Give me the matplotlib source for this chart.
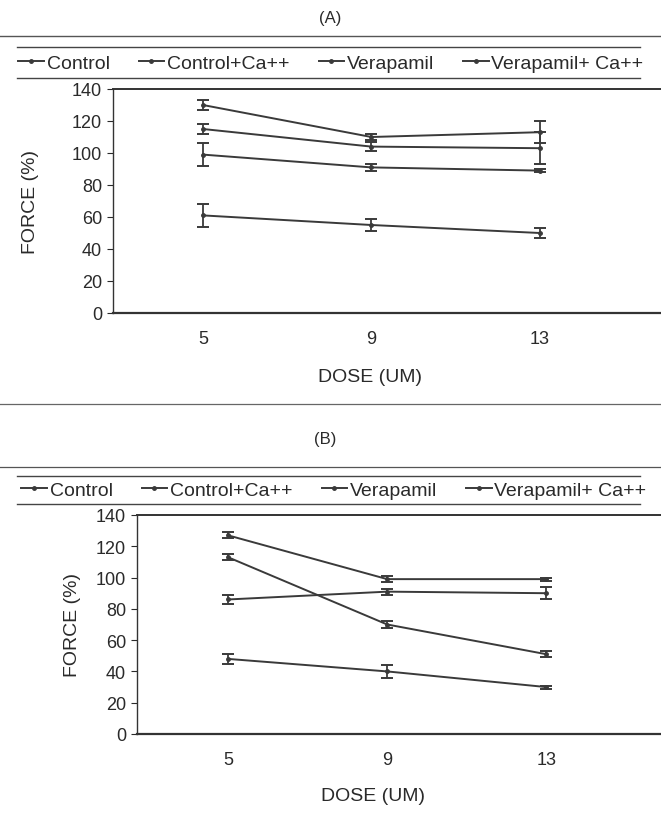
import matplotlib
matplotlib.use("Agg")
import matplotlib.pyplot as plt
from matplotlib.lines import Line2D

doses = ["5", "9", "13"]
series_names = ["Control", "Control+Ca++", "Verapamil", "Verapamil+ Ca++"]

# Panel A
a_control = [99, 91, 89]
a_control_err = [7, 2, 1]
a_control_ca = [115, 104, 103]
a_control_ca_err = [3, 3, 10]
a_verapamil = [61, 55, 50]
a_verapamil_err = [7, 4, 3]
a_verapamil_ca = [130, 110, 113]
a_verapamil_ca_err = [3, 2, 7]

# Panel B
b_control = [86, 91, 90]
b_control_err = [3, 2, 4]
b_control_ca = [113, 70, 51]
b_control_ca_err = [2, 2, 2]
b_verapamil = [48, 40, 30]
b_verapamil_err = [3, 4, 1]
b_verapamil_ca = [127, 99, 99]
b_verapamil_ca_err = [2, 2, 1]

W, H = 661, 828
fig = plt.figure(figsize=(W / 100, H / 100), dpi=100)
fig.patch.set_facecolor("white")
plt.rcParams["font.family"] = ["Liberation Sans", "DejaVu Sans"]

C = "#3a3a3a"
T = "#2a2a2a"


def fx(px):
    return px / W


def fy(py):
    return 1 - py / H


def hline(y, x0, x1, lw=1.0, color="#444444"):
    fig.add_artist(Line2D([fx(x0), fx(x1)], [fy(y), fy(y)], color=color, lw=lw))


def panel(ax, data, errs, xlim):
    x = list(range(len(doses)))
    for vals, err in zip(data, errs):
        ax.errorbar(x, vals, yerr=err, color=C, lw=1.4, marker="o", ms=2.5,
                    capsize=4, capthick=1.4, elinewidth=1.3)
    ax.set_xlim(*xlim)
    ax.set_ylim(0, 140)
    ax.set_yticks(range(0, 141, 20))
    ax.set_xticks(x)
    ax.set_xticklabels(doses)
    ax.tick_params(axis="x", length=0, pad=12, labelsize=13, colors=T)
    ax.tick_params(axis="y", length=4, width=0.8, direction="out", labelsize=13,
                   colors=T, pad=4)
    ax.spines["right"].set_visible(False)
    for s in ["left", "bottom", "top"]:
        ax.spines[s].set_color("#333333")
    ax.spines["left"].set_linewidth(1.0)
    ax.spines["bottom"].set_linewidth(1.6)
    ax.spines["top"].set_linewidth(1.4)
    ax.set_ylabel("FORCE (%)", fontsize=14, color=T)
    ax.set_xlabel("DOSE (UM)", fontsize=14, color=T)


# Panel A axes
axA = fig.add_axes([fx(113), fy(314), fx(661 - 113), (314 - 90) / H])
panel(axA,
      [a_control, a_control_ca, a_verapamil, a_verapamil_ca],
      [a_control_err, a_control_ca_err, a_verapamil_err, a_verapamil_ca_err],
      (-0.534, 2.72))
axA.yaxis.set_label_coords((39 - 113) / 548, 0.5)
axA.xaxis.set_label_coords((370 - 113) / 548, -(369 - 314) / 224)

# Panel B axes
axB = fig.add_axes([fx(137), fy(735), fx(661 - 137), (735 - 516) / H])
panel(axB,
      [b_control, b_control_ca, b_verapamil, b_verapamil_ca],
      [b_control_err, b_control_ca_err, b_verapamil_err, b_verapamil_ca_err],
      (-0.572, 2.72))
axB.yaxis.set_label_coords((81 - 137) / 524, 0.5)
axB.xaxis.set_label_coords((373 - 137) / 524, -(788 - 735) / 219)

# Titles
fig.text(fx(330), fy(18), "(A)", ha="center", va="center", fontsize=12, color=T)
fig.text(fx(325), fy(440), "(B)", ha="center", va="center", fontsize=12, color=T)

# Legends
handles = [Line2D([0], [0], color=C, lw=1.4, marker="o", ms=2.5) for _ in series_names]
for xc, ycen in ((331, 64), (334, 491)):
    fig.legend(handles, series_names, loc="center", bbox_to_anchor=(fx(xc), fy(ycen)),
               ncol=4, frameon=False, fontsize=14, handlelength=1.3,
               handletextpad=0.15, columnspacing=1.5, labelcolor=T)

# Decorative page rules
hline(37, 0, 661, lw=1.0, color="#555555")
hline(48, 17, 640, lw=1.0)
hline(79, 17, 640, lw=1.0)
hline(405, 0, 661, lw=0.9, color="#666666")
hline(468, 0, 661, lw=0.9, color="#555555")
hline(477, 17, 640, lw=1.0)
hline(505, 17, 640, lw=1.0)

fig.savefig("out.png", dpi=100, facecolor="white")
